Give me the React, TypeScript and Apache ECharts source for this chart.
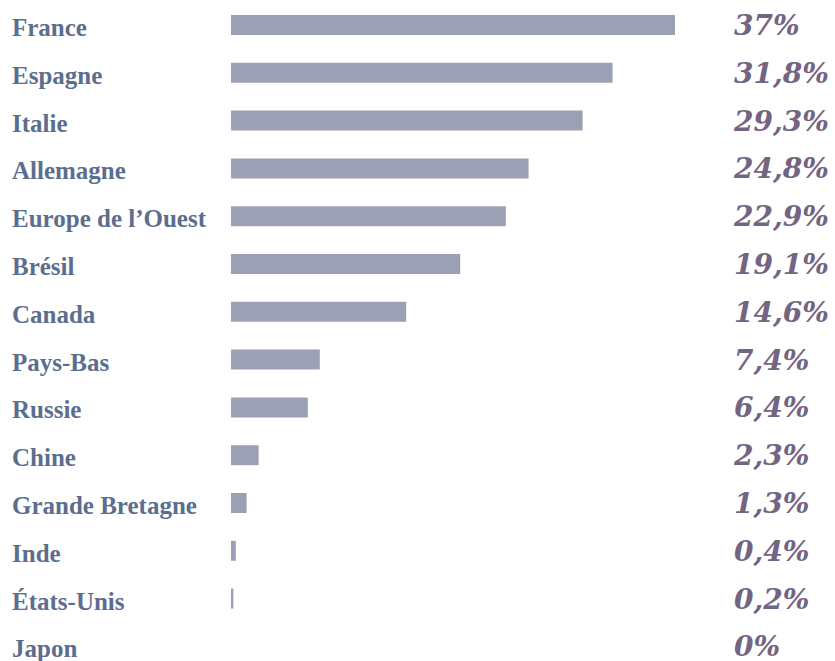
import React, { useEffect, useRef } from "react";
import * as echarts from "echarts";

const categories = [
  "France",
  "Espagne",
  "Italie",
  "Allemagne",
  "Europe de l’Ouest",
  "Brésil",
  "Canada",
  "Pays-Bas",
  "Russie",
  "Chine",
  "Grande Bretagne",
  "Inde",
  "États-Unis",
  "Japon",
];

const values = [37, 31.8, 29.3, 24.8, 22.9, 19.1, 14.6, 7.4, 6.4, 2.3, 1.3, 0.4, 0.2, 0];

const valueLabels = values.map((v) => String(v).replace(".", ",") + "%");

export default function App() {
  const ref = useRef<HTMLDivElement>(null);
  useEffect(() => {
    if (!ref.current) return;
    const chart = echarts.init(ref.current, null, { renderer: "svg" });
    chart.setOption({
      animation: false,
      backgroundColor: "#ffffff",
      grid: { left: 231, top: 1.1, width: 444, height: 669.2, containLabel: false },
      xAxis: {
        type: "value",
        min: 0,
        max: 37,
        show: false,
      },
      yAxis: [
        {
          type: "category",
          data: categories,
          inverse: true,
          axisLine: { show: false },
          axisTick: { show: false },
          splitLine: { show: false },
          axisLabel: {
            align: "left",
            margin: 219,
            color: "#5b6e8e",
            fontFamily: "Liberation Serif",
            fontWeight: "bold",
            fontSize: 25,
            verticalAlign: "top",
            lineHeight: 5,
          },
        },
        {
          type: "category",
          data: valueLabels,
          inverse: true,
          position: "right",
          axisLine: { show: false },
          axisTick: { show: false },
          splitLine: { show: false },
          axisLabel: {
            align: "left",
            margin: 59,
            color: "#736482",
            fontFamily: "DejaVu Serif",
            fontWeight: "bold",
            fontStyle: "italic",
            fontSize: 28,
            verticalAlign: "top",
            lineHeight: 1,
          },
        },
      ],
      series: [
        {
          type: "bar",
          data: values,
          barWidth: 20,
          itemStyle: { color: "#9ca0b4" },
          yAxisIndex: 0,
        },
      ],
    });
    return () => chart.dispose();
  }, []);
  return (
    <div style={{ position: "fixed", left: 0, top: 0, width: 835, height: 661, overflow: "hidden" }}>
      <div ref={ref} style={{ width: 835, height: 680 }} />
    </div>
  );
}
